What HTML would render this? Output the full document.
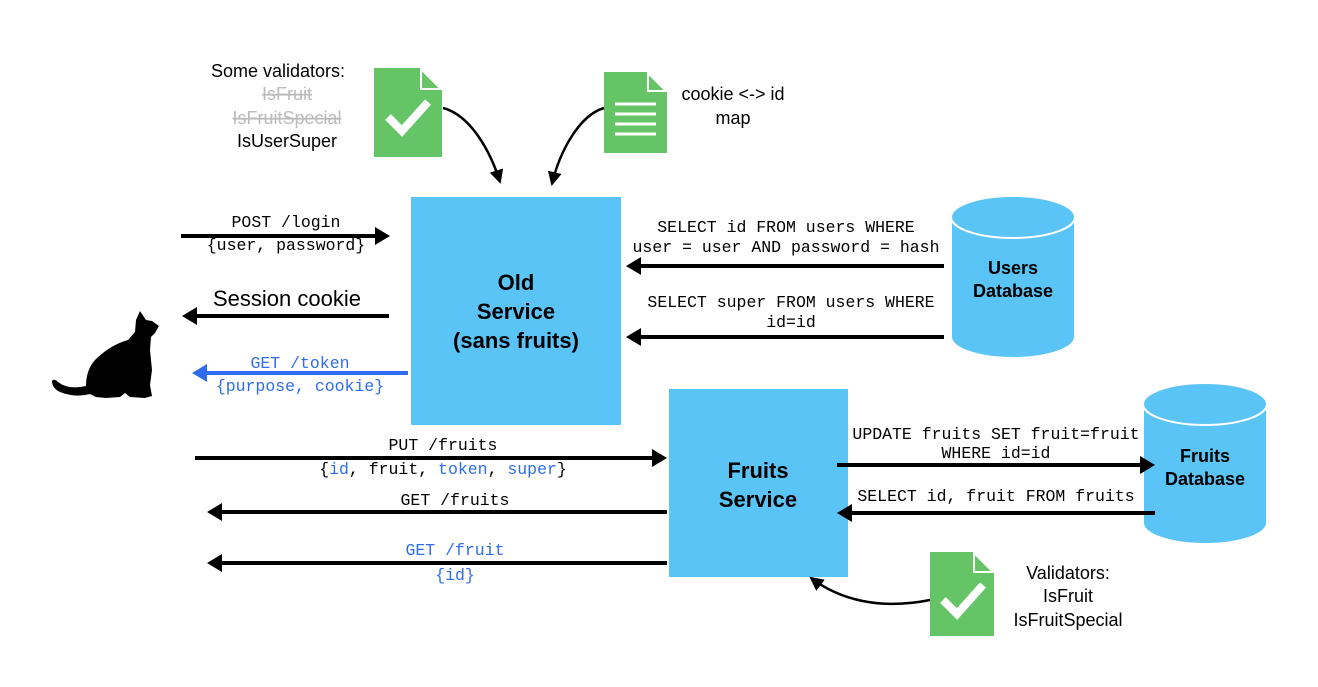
<!DOCTYPE html>
<html><head><meta charset="utf-8"><style>
html,body{margin:0;padding:0;background:#fff;}
svg{display:block}
.m{font-family:"Liberation Mono","DejaVu Sans Mono",monospace;font-size:16.5px;}
.s{font-family:"Liberation Sans",sans-serif;}
</style></head><body>
<svg width="1318" height="687" viewBox="0 0 1318 687" xmlns="http://www.w3.org/2000/svg">
<defs>
<marker id="ahc" markerWidth="14" markerHeight="14" refX="12" refY="7" orient="auto" markerUnits="userSpaceOnUse"><path d="M0,0 L14,7 L0,14z" fill="#000"/></marker>
</defs>

<!-- boxes -->
<rect x="411" y="197" width="210" height="228" fill="#5bc4f6"/>
<rect x="669" y="389" width="179" height="188" fill="#5bc4f6"/>
<g class="s" font-weight="bold" font-size="22" text-anchor="middle" fill="#000">
<text x="516" y="290">Old</text><text x="516" y="319">Service</text><text x="516" y="348">(sans fruits)</text>
<text x="758" y="478">Fruits</text><text x="758" y="507">Service</text>
</g>

<!-- cylinders -->
<g fill="#5bc4f6" stroke="#fff" stroke-width="2">
<path d="M951,217 L951,337 A62,21 0 0 0 1075,337 L1075,217 Z"/>
<ellipse cx="1013" cy="217" rx="62" ry="21"/>
<path d="M1143,404 L1143,523 A62,21 0 0 0 1267,523 L1267,404 Z"/>
<ellipse cx="1205" cy="404" rx="62" ry="21"/>
</g>
<g class="s" font-weight="bold" font-size="18" text-anchor="middle">
<text x="1013" y="274">Users</text><text x="1013" y="297">Database</text>
<text x="1205" y="485">Database</text>
</g>

<g fill="#000">
<rect x="181" y="234" width="196" height="4"/><path d="M375,227 L390,236 L375,245z"/>
<rect x="196" y="314" width="193" height="4"/><path d="M197,307 L182,316 L197,325z"/>
<rect x="640" y="264" width="304" height="4"/><path d="M641,257 L626,266 L641,275z"/>
<rect x="640" y="335" width="304" height="4"/><path d="M641,328 L626,337 L641,346z"/>
<rect x="195" y="456" width="458" height="4"/><path d="M652,449 L667,458 L652,467z"/>
<rect x="221" y="510" width="446" height="4"/><path d="M222,503 L207,512 L222,521z"/>
<rect x="221" y="561" width="446" height="4"/><path d="M222,554 L207,563 L222,572z"/>
<rect x="837" y="463" width="304" height="4"/><path d="M1140,456 L1155,465 L1140,474z"/>
<rect x="851" y="511" width="304" height="4"/><path d="M852,504 L837,513 L852,522z"/>
</g>
<rect x="206" y="371" width="202" height="4" fill="#2f6cf0"/><path d="M207,364 L192,373 L207,382z" fill="#2f6cf0"/>
<text x="1205" y="462" class="s" font-weight="bold" font-size="18" text-anchor="middle">Fruits</text>

<!-- arrow labels -->
<g class="m" text-anchor="middle" fill="#000">
<text x="286" y="227">POST /login</text>
<text x="286" y="250">{user, password}</text>
<text x="786" y="232">SELECT id FROM users WHERE</text>
<text x="786" y="252">user = user AND password = hash</text>
<text x="791" y="307">SELECT super FROM users WHERE</text>
<text x="791" y="327">id=id</text>
<text x="996" y="439">UPDATE fruits SET fruit=fruit</text>
<text x="996" y="458">WHERE id=id</text>
<text x="996" y="501">SELECT id, fruit FROM fruits</text>
<text x="443" y="450">PUT /fruits</text>
<text x="443" y="474">{<tspan fill="#2f6cf0">id</tspan>, fruit, <tspan fill="#2f6cf0">token</tspan>, <tspan fill="#2f6cf0">super</tspan>}</text>
<text x="455" y="505">GET /fruits</text>
<g fill="#2f6cf0">
<text x="455" y="555">GET /fruit</text><text x="455" y="580">{id}</text>
<text x="300" y="368">GET /token</text><text x="300" y="391">{purpose, cookie}</text>
</g>
</g>
<text x="287" y="306" class="s" font-size="22" text-anchor="middle">Session cookie</text>

<!-- top labels -->
<g class="s" font-size="18" text-anchor="middle">
<text x="278" y="77">Some validators:</text>
<text x="287" y="100" fill="#bbb" text-decoration="line-through">IsFruit</text>
<text x="287" y="124" fill="#bbb" text-decoration="line-through">IsFruitSpecial</text>
<text x="287" y="147">IsUserSuper</text>
<text x="733" y="100">cookie &lt;-&gt; id</text>
<text x="733" y="124">map</text>
<text x="1068" y="579">Validators:</text>
<text x="1068" y="602">IsFruit</text>
<text x="1068" y="626">IsFruitSpecial</text>
</g>

<!-- docs -->
<path d="M374,68 L420,68 L442,90 L442,157 L374,157Z" fill="#65c466"/>
<path d="M421,69 L441,89 L421,89Z" fill="#65c466" stroke="#fff" stroke-width="2"/>
<path d="M388,117 L402,131 L428,102" fill="none" stroke="#fff" stroke-width="8"/>
<path d="M604,72 L647,72 L667,92 L667,153 L604,153Z" fill="#65c466"/>
<path d="M648,73 L666,91 L648,91Z" fill="#65c466" stroke="#fff" stroke-width="2"/>
<g stroke="#fff" stroke-width="3"><line x1="615" y1="104" x2="656" y2="104"/><line x1="615" y1="114" x2="656" y2="114"/><line x1="615" y1="124" x2="656" y2="124"/><line x1="615" y1="134" x2="656" y2="134"/></g>
<path d="M930,552 L973,552 L994,573 L994,636 L930,636Z" fill="#65c466"/>
<path d="M974,553 L993,572 L974,572Z" fill="#65c466" stroke="#fff" stroke-width="2"/>
<path d="M943,600 L957,614 L983,585" fill="none" stroke="#fff" stroke-width="8"/>

<!-- curves -->
<g fill="none" stroke="#000" stroke-width="2.5">
<path d="M443,108 C470,115 490,150 500,182" marker-end="url(#ahc)"/>
<path d="M604,108 C580,115 560,150 552,184" marker-end="url(#ahc)"/>
<path d="M930,600 C880,610 840,600 811,578" marker-end="url(#ahc)"/>
</g>

<!-- cat -->
<path fill="#000" d="M140,311 L146,320 L152,321 L159,326 L155,333 L151,337 L150,350 L152,370 L150,385 L152,396 L145,398 L130,397 L125,393 L120,397 L106,398 L96,397 L90,394 Q75,398 60,392 Q52,388 52,381 Q54,378 58,382 Q68,390 86,386 Q86,370 95,360 Q110,345 128,340 L135,332 L136,320 Z"/>
</svg>
</body></html>
